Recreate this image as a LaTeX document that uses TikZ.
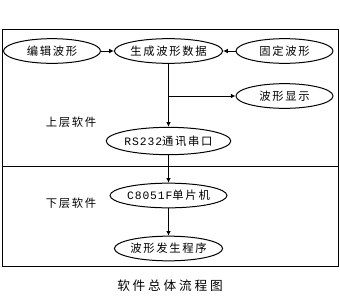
\documentclass[tikz,border=0pt]{standalone}
\usepackage{fontspec}
\setmainfont{Noto Sans CJK SC}
\newfontfamily\cjk[LetterSpace=15]{Noto Sans CJK SC}
\newfontfamily\cjkcap[LetterSpace=22]{Noto Sans CJK SC}
\newfontfamily\lat[LetterSpace=8]{Liberation Mono}
\usetikzlibrary{shapes.geometric,arrows.meta}
\begin{document}
\begin{tikzpicture}[x=0.75pt,y=-0.75pt,
  line width=0.75pt,
  oval/.style={ellipse,draw,inner sep=0pt,minimum width=72.75pt,minimum height=18.5pt,font=\cjk\fontsize{8.5}{9}\selectfont},
  lab/.style={font=\cjk\fontsize{8.5}{9}\selectfont},
  arr/.style={-{Latex[length=3.5pt,width=3.5pt]}}]
\useasboundingbox (0,0) rectangle (340,297);
\fill[white] (0,0) rectangle (340,297);
\draw (2,29) rectangle (338,266);
\draw (2,166) -- (338,166);
\node[oval] (e1) at (52,51) {编辑波形};
\node[oval] (e2) at (168.5,51) {生成波形数据};
\node[oval] (e3) at (284.5,51) {固定波形};
\node[oval] (e4) at (284.5,96) {波形显示};
\node[oval,minimum height=20.5pt] (e5) at (168.5,141) {{\lat RS232}通讯串口};
\node[oval] (e6) at (168.5,195.5) {{\lat C8051F}单片机};
\node[oval] (e7) at (168.5,248.5) {波形发生程序};
\node[lab] (l1) at (71,122) {上层软件};
\node[lab] (l2) at (71,203) {下层软件};
\node[font=\cjkcap\fontsize{9.5}{10}\selectfont] (cap) at (170,286) {软件总体流程图};
\coordinate (br) at (168.5,96);
\draw[arr] (e1) -- (e2);
\draw[arr] (e3) -- (e2);
\draw[arr] (e2) -- (e5);
\draw[arr] (br) -- (e4);
\draw[arr] (e5) -- (e6);
\draw[arr] (e6) -- (e7);
\end{tikzpicture}
\end{document}
